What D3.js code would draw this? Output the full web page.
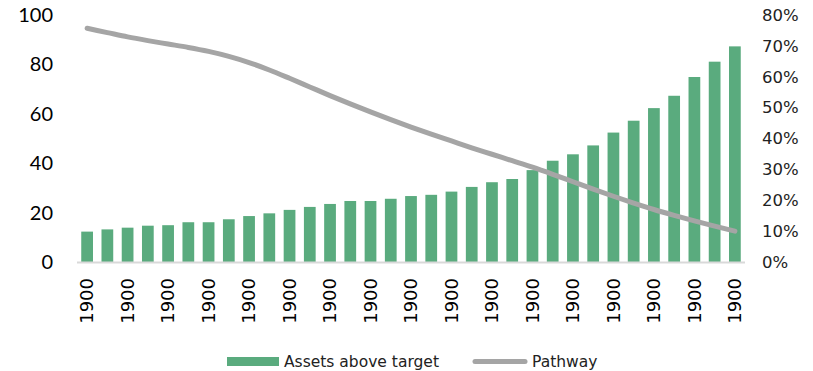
<!DOCTYPE html>
<html>
<head>
<meta charset="utf-8">
<script src="https://cdn.jsdelivr.net/npm/d3@7"></script>
<style>
  html, body { margin: 0; padding: 0; background: #fff; }
  svg { display: block; }
</style>
</head>
<body>
<svg id="chart" width="813" height="371"></svg>
<script>
// Category labels (one per bar)
const categories = d3.range(33).map(() => "1900");

// Assets above target (left axis)
const assets = [12.3, 13.2, 13.9, 14.7, 14.9, 16.1, 16.1, 17.3, 18.6, 19.7,
                21.1, 22.3, 23.5, 24.7, 24.7, 25.6, 26.7, 27.2, 28.5, 30.4,
                32.3, 33.6, 37.2, 41.0, 43.6, 47.2, 52.4, 57.2, 62.3, 67.3,
                74.9, 81.1, 87.3];

// Pathway (right axis, share)
const pathway = [0.757, 0.743, 0.729, 0.717, 0.706, 0.695, 0.682, 0.666, 0.646, 0.622,
                 0.595, 0.567, 0.539, 0.512, 0.486, 0.461, 0.437, 0.414, 0.392, 0.370,
                 0.349, 0.328, 0.307, 0.284, 0.260, 0.236, 0.213, 0.191, 0.170, 0.151,
                 0.133, 0.116, 0.100];

const leftTicks = [0, 20, 40, 60, 80, 100];
const rightTicks = [0, 0.1, 0.2, 0.3, 0.4, 0.5, 0.6, 0.7, 0.8];

const svg = d3.select("#chart");
const plot = { left: 77, right: 745, top: 15, bottom: 262 };

const x = d3.scaleBand()
  .domain(d3.range(categories.length))
  .range([plot.left, plot.right])
  .paddingInner(0.42)
  .paddingOuter(0.21);

const yL = d3.scaleLinear().domain([0, 100]).range([plot.bottom, plot.top]);
const yR = d3.scaleLinear().domain([0, 0.8]).range([plot.bottom, plot.top]);

const green = "#5aab7e";
const grey = "#a5a5a5";

// Bars
svg.append("g")
  .selectAll("rect")
  .data(assets)
  .join("rect")
  .attr("x", (d, i) => x(i))
  .attr("width", x.bandwidth())
  .attr("y", d => yL(d))
  .attr("height", d => yL(0) - yL(d))
  .attr("fill", green);

// Category baseline
svg.append("line")
  .attr("x1", plot.left).attr("x2", plot.right)
  .attr("y1", yL(0) + 0.5).attr("y2", yL(0) + 0.5)
  .attr("stroke", "#d9d9d9").attr("stroke-width", 2);

// Pathway line
const line = d3.line()
  .x((d, i) => x(i) + x.bandwidth() / 2)
  .y(d => yR(d))
  .curve(d3.curveMonotoneX);

svg.append("path")
  .datum(pathway)
  .attr("d", line)
  .attr("fill", "none")
  .attr("stroke", grey)
  .attr("stroke-width", 5)
  .attr("stroke-linecap", "round")
  .attr("stroke-linejoin", "round");

// Left axis
const axL = svg.append("g")
  .attr("transform", `translate(${plot.left},0)`)
  .call(d3.axisLeft(yL).tickValues(leftTicks).tickSize(0).tickPadding(24));
axL.select(".domain").remove();
axL.selectAll("text")
  .attr("font-family", "Lato, 'Open Sans', sans-serif")
  .attr("font-size", 20)
  .attr("fill", "#000");

// Right axis
const axR = svg.append("g")
  .attr("transform", `translate(${plot.right},0)`)
  .call(d3.axisRight(yR).tickValues(rightTicks).tickSize(0).tickPadding(17)
    .tickFormat(d3.format(".0%")));
axR.select(".domain").remove();
axR.selectAll("text")
  .attr("font-family", "Verdana, 'DejaVu Sans', sans-serif")
  .attr("font-size", 16.5)
  .attr("fill", "#222");

// Category axis (every other label shown)
const axX = svg.append("g")
  .attr("transform", `translate(0,${plot.bottom})`)
  .call(d3.axisBottom(x)
    .tickValues(d3.range(0, categories.length, 2))
    .tickFormat(i => categories[i])
    .tickSize(0));
axX.select(".domain").remove();
axX.selectAll("text")
  .attr("font-family", "Verdana, 'DejaVu Sans', sans-serif")
  .attr("font-size", 18)
  .attr("fill", "#000")
  .attr("text-anchor", "end")
  .attr("dy", "0.35em")
  .attr("transform", "translate(0,16) rotate(-90)")
  .attr("x", 0).attr("y", 0);

// Legend
const legend = svg.append("g")
  .attr("font-family", "Verdana, 'DejaVu Sans', sans-serif")
  .attr("font-size", 15.5)
  .attr("fill", "#222");

legend.append("rect")
  .attr("x", 227).attr("y", 357).attr("width", 52).attr("height", 9)
  .attr("fill", green);
legend.append("text")
  .attr("x", 284).attr("y", 362).attr("dy", "0.35em")
  .text("Assets above target");

legend.append("line")
  .attr("x1", 475).attr("x2", 525).attr("y1", 361.5).attr("y2", 361.5)
  .attr("stroke", grey).attr("stroke-width", 5).attr("stroke-linecap", "round");
legend.append("text")
  .attr("x", 532).attr("y", 362).attr("dy", "0.35em")
  .text("Pathway");
</script>
</body>
</html>
